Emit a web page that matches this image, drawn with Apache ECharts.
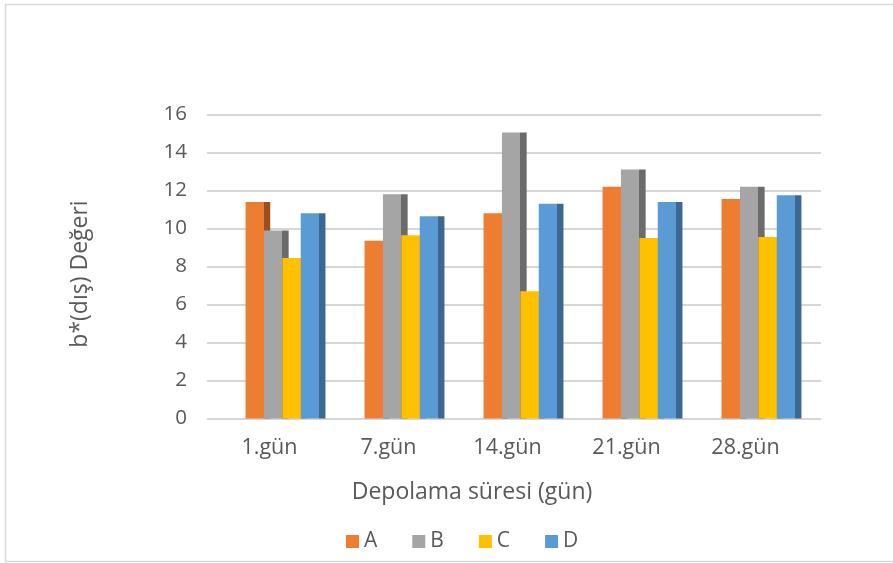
<!DOCTYPE html>
<html>
<head>
<meta charset="utf-8">
<script src="https://cdn.jsdelivr.net/npm/echarts@6/dist/echarts.min.js"></script>
<style>
  html, body { margin: 0; padding: 0; background: #ffffff; }
  #chart { width: 893px; height: 563px; }
</style>
</head>
<body>
<div id="chart"></div>
<script>
// Storage days and b* (outer) values for the four samples
const categories = ['1.gün', '7.gün', '14.gün', '21.gün', '28.gün'];
const seriesNames = ['A', 'B', 'C', 'D'];
const valuesA = [11.4, 9.35, 10.8, 12.2, 11.55];
const valuesB = [9.9, 11.8, 15.05, 13.1, 12.2];
const valuesC = [8.45, 9.65, 6.7, 9.5, 9.55];
const valuesD = [10.8, 10.65, 11.3, 11.4, 11.75];
const yTicks = { min: 0, max: 16, step: 2 };

const fills = [
  { light: '#ED7D31', dark: '#9B4F1E' },
  { light: '#A5A5A5', dark: '#6B6B6B' },
  { light: '#FFC000', dark: '#A67C00' },
  { light: '#5B9BD5', dark: '#3C6790' }
];
const allValues = [valuesA, valuesB, valuesC, valuesD];

const FONT = '"Open Sans", "DejaVu Sans", sans-serif';
const TEXT = '#595959';

// each bar carries a darker strip on its right, partly hidden by the next bar
function barFill(c) {
  return new echarts.graphic.LinearGradient(0, 0, 1, 0, [
    { offset: 0, color: c.light },
    { offset: 0.745, color: c.light },
    { offset: 0.745, color: c.dark },
    { offset: 1, color: c.dark }
  ]);
}

const series = seriesNames.map((name, i) => ({
  name: name,
  type: 'bar',
  xAxisIndex: 1,
  yAxisIndex: 1,
  data: allValues[i],
  barWidth: 24.7,
  barGap: '-25.5%',
  itemStyle: { color: barFill(fills[i]) },
  emphasis: { disabled: true }
}));

const chart = echarts.init(document.getElementById('chart'), null, { renderer: 'canvas' });
chart.setOption({
  animation: false,
  backgroundColor: '#ffffff',
  textStyle: { fontFamily: FONT },
  grid: [
    { left: 207, right: 72, top: 114.5, bottom: 144.5 },
    { left: 226, right: 72, top: 114.5, bottom: 144.5 }
  ],
  xAxis: [
    { type: 'category', gridIndex: 0, data: categories, show: false },
    {
      type: 'category',
      gridIndex: 1,
      data: categories,
      axisLine: { show: false },
      axisTick: { show: false },
      axisLabel: {
        color: TEXT,
        fontFamily: FONT,
        fontSize: 21.5,
        margin: 18,
        padding: [0, 32, 0, 0]
      }
    }
  ],
  yAxis: [
    {
      type: 'value',
      gridIndex: 0,
      min: yTicks.min,
      max: yTicks.max,
      interval: yTicks.step,
      axisLine: { show: false },
      axisTick: { show: false },
      axisLabel: { color: TEXT, fontFamily: FONT, fontSize: 20.5, margin: 20 },
      splitLine: { lineStyle: { color: '#d6d6d6', width: 1.8 } }
    },
    {
      type: 'value',
      gridIndex: 1,
      min: yTicks.min,
      max: yTicks.max,
      interval: yTicks.step,
      show: false,
      splitLine: { show: false }
    }
  ],
  legend: {
    data: seriesNames.map((n, i) => ({ name: n, itemStyle: { color: fills[i].light } })),
    left: 341,
    top: 526,
    icon: 'rect',
    itemWidth: 13,
    itemHeight: 13,
    itemGap: 35,
    textStyle: { color: TEXT, fontFamily: FONT, fontSize: 21 },
    selectedMode: false
  },
  graphic: [
    {
      type: 'rect',
      shape: { x: 5.5, y: 4.5, width: 900, height: 557 },
      style: { fill: 'none', stroke: '#d9d9d9', lineWidth: 1.5 },
      silent: true
    },
    {
      type: 'text',
      x: 80,
      y: 274,
      rotation: Math.PI / 2,
      style: {
        text: 'b*(dış) Değeri',
        fill: TEXT,
        font: '23px ' + FONT,
        align: 'center',
        verticalAlign: 'middle'
      }
    },
    {
      type: 'text',
      x: 472,
      y: 492,
      style: {
        text: 'Depolama süresi (gün)',
        fill: TEXT,
        font: '23px ' + FONT,
        align: 'center',
        verticalAlign: 'middle'
      }
    }
  ],
  series: series
});
</script>
</body>
</html>
